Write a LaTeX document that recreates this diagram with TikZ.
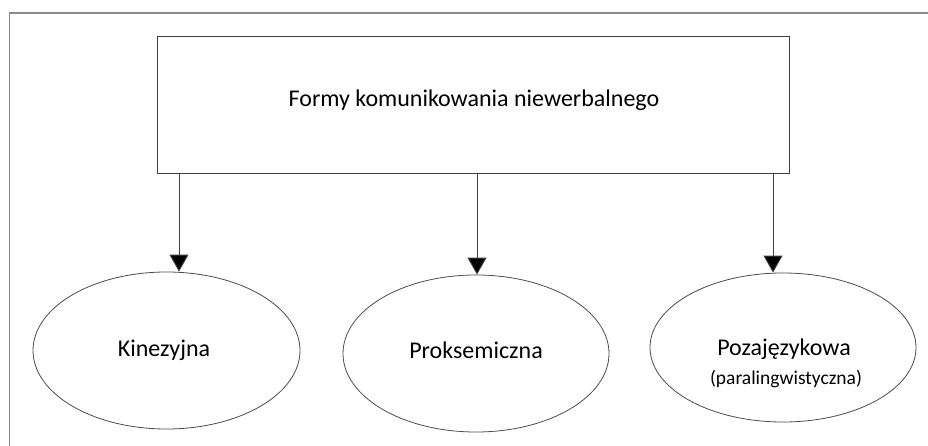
\documentclass[tikz,border=0pt]{standalone}
\usepackage{fontspec}
\setmainfont{Carlito}
\usetikzlibrary{shapes.geometric,arrows.meta}
\begin{document}
\begin{tikzpicture}[x=1pt,y=-1pt,
  edge/.style={draw=black!75,line width=0.9pt},
  bigtext/.style={font=\fontsize{24}{28}\selectfont},
  smalltext/.style={font=\fontsize{19.5}{23}\selectfont},
  topbox/.style={edge,rectangle,minimum width=632pt,minimum height=137pt,inner sep=0pt},
  kind/.style={draw=black!70,line width=0.8pt,ellipse,inner sep=0pt},
  link/.style={draw=black!75,line width=0.9pt,-{Triangle[width=19pt,length=17pt,fill=black]}},
  frame/.style={draw=black!45,line width=1.6pt}]
  \useasboundingbox (0,0) rectangle (928,446);
  % frame edges
  \coordinate (fTL) at (9.5,13);
  \coordinate (fTR) at (928,13);
  \coordinate (fBL) at (9.5,446);
  \draw[frame] (fTR) -- (fTL) -- (fBL);
  % main box
  \node[topbox] (forms) at (473,104.5) {};
  \node[bigtext] (formsT) at (474,100) {Formy komunikowania niewerbalnego};
  % three kinds
  \node[kind,minimum width=267pt,minimum height=157pt] (kin) at (166.5,350.5) {};
  \node[bigtext] (kinT) at (164,350) {Kinezyjna};
  \node[kind,minimum width=266pt,minimum height=157pt] (prok) at (476,353.5) {};
  \node[bigtext] (prokT) at (476,350) {Proksemiczna};
  \node[kind,minimum width=266pt,minimum height=149pt] (poza) at (783,347.5) {};
  \node[bigtext] (pozaT) at (784,349) {Pozajęzykowa};
  \node[smalltext] (pozaS) at (786,379) {(paralingwistyczna)};
  % arrows
  \coordinate (a1) at (179,0);
  \coordinate (a2) at (477,0);
  \coordinate (a3) at (773,0);
  \draw[link] (a1 |- forms.south) -- (a1 |- kin.north);
  \draw[link] (a2 |- forms.south) -- (a2 |- prok.north);
  \draw[link] (a3 |- forms.south) -- (a3 |- poza.north);
\end{tikzpicture}
\end{document}
